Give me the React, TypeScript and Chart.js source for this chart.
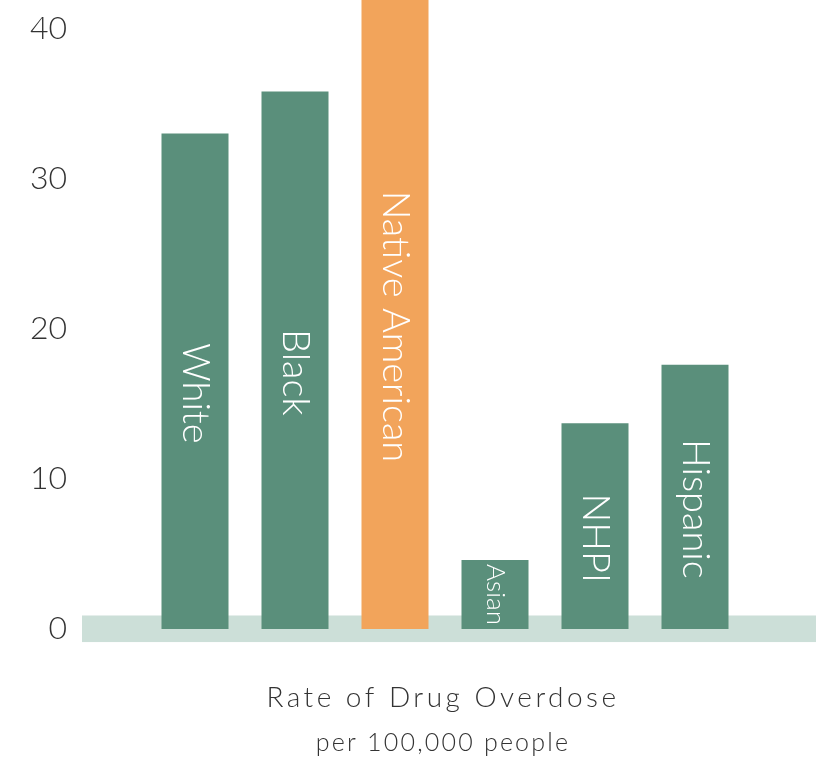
import React, { useEffect, useRef } from "react";
import { Chart, registerables } from "chart.js";

Chart.register(...registerables);

// Overdose deaths per 100,000 people, by race / ethnicity
const groups = ["White", "Black", "Native American", "Asian", "NHPI", "Hispanic"];
const overdoseRates = [33.0, 35.8, 42.5, 4.6, 13.7, 17.6];
const highlighted = [false, false, true, false, false, false];
const yTickValues = [0, 10, 20, 30, 40];
const chartTitle = "Rate of Drug Overdose";
const chartSubtitle = "per 100,000 people";

const GREEN = "#5a8f7b";
const ORANGE = "#f2a45b";
const BAND = "#ccdfd8";
const TEXT = "#333333";
const FONT = "Lato, 'Open Sans', sans-serif";

const decorPlugin = {
  id: "decor",
  // pale baseline band behind the bars
  beforeDatasetsDraw(chart: any) {
    const { ctx, chartArea, scales } = chart;
    const y = scales.y;
    const top = y.getPixelForValue(0.9);
    const bottom = y.getPixelForValue(-0.87);
    const left = chartArea.left - 63;
    ctx.save();
    ctx.fillStyle = BAND;
    ctx.fillRect(left, top, chart.width - left, bottom - top);
    ctx.restore();
  },
  // group names written down the inside of each bar
  afterDatasetsDraw(chart: any) {
    const { ctx, chartArea } = chart;
    const meta = chart.getDatasetMeta(0);
    ctx.save();
    ctx.fillStyle = "#ffffff";
    ctx.textAlign = "center";
    ctx.textBaseline = "middle";
    meta.data.forEach((bar: any, i: number) => {
      const label = groups[i];
      const top = Math.max(bar.y, chartArea.top);
      const base = bar.base;
      const barLen = base - top;
      let size = 38;
      ctx.font = `300 ${size}px ${FONT}`;
      let len = ctx.measureText(label).width;
      if (len > barLen - 8) {
        size = (size * (barLen - 8)) / len;
        ctx.font = `300 ${size}px ${FONT}`;
        len = ctx.measureText(label).width;
      }
      let cy = (top + base) / 2;
      const shift = Math.max(0, Math.min(12, base - 4 - (cy + len / 2)));
      cy += shift;
      ctx.save();
      ctx.translate(bar.x, cy);
      ctx.rotate(Math.PI / 2);
      ctx.fillText(label, 0, 0);
      ctx.restore();
    });
    ctx.restore();
  },
  // axis caption beneath the band
  afterDraw(chart: any) {
    const { ctx, chartArea } = chart;
    const cx = (chartArea.left + chartArea.right) / 2 - 2;
    ctx.save();
    ctx.fillStyle = TEXT;
    ctx.textAlign = "center";
    ctx.textBaseline = "alphabetic";
    ctx.font = `300 28px ${FONT}`;
    (ctx as any).letterSpacing = "3.5px";
    ctx.fillText(chartTitle, cx, chartArea.bottom + 78);
    ctx.font = `300 25px ${FONT}`;
    (ctx as any).letterSpacing = "2.2px";
    ctx.fillText(chartSubtitle, cx, chartArea.bottom + 122);
    ctx.restore();
  },
};

export default function App() {
  const canvasRef = useRef<HTMLCanvasElement | null>(null);

  useEffect(() => {
    const canvas = canvasRef.current;
    if (!canvas) return;
    const chart = new Chart(canvas, {
      type: "bar",
      data: {
        labels: groups,
        datasets: [
          {
            data: overdoseRates,
            backgroundColor: highlighted.map((h) => (h ? ORANGE : GREEN)),
            borderWidth: 0,
            barPercentage: 0.67,
            categoryPercentage: 1,
          },
        ],
      },
      options: {
        responsive: false,
        animation: false,
        layout: { padding: { left: 0, right: 71, top: 0, bottom: 131 } },
        plugins: {
          legend: { display: false },
          tooltip: { enabled: false },
          title: { display: false },
        },
        scales: {
          x: { display: false, offset: true },
          y: {
            min: 0,
            max: 41.9,
            grid: { display: false, drawTicks: false },
            border: { display: false },
            afterBuildTicks: (scale: any) => {
              scale.ticks = yTickValues.map((v) => ({ value: v }));
            },
            afterFit: (scale: any) => {
              scale.width = 145;
              scale.paddingTop = 0;
              scale.paddingBottom = 0;
            },
            ticks: {
              includeBounds: false,
              padding: 78,
              color: TEXT,
              font: { family: FONT, size: 32, weight: "300" },
            },
          },
        },
      },
      plugins: [decorPlugin],
    });
    return () => chart.destroy();
  }, []);

  return (
    <div style={{ position: "absolute", left: 0, top: 0, width: 816, height: 760, background: "#ffffff" }}>
      <canvas ref={canvasRef} width={816} height={760} style={{ display: "block" }} />
    </div>
  );
}
